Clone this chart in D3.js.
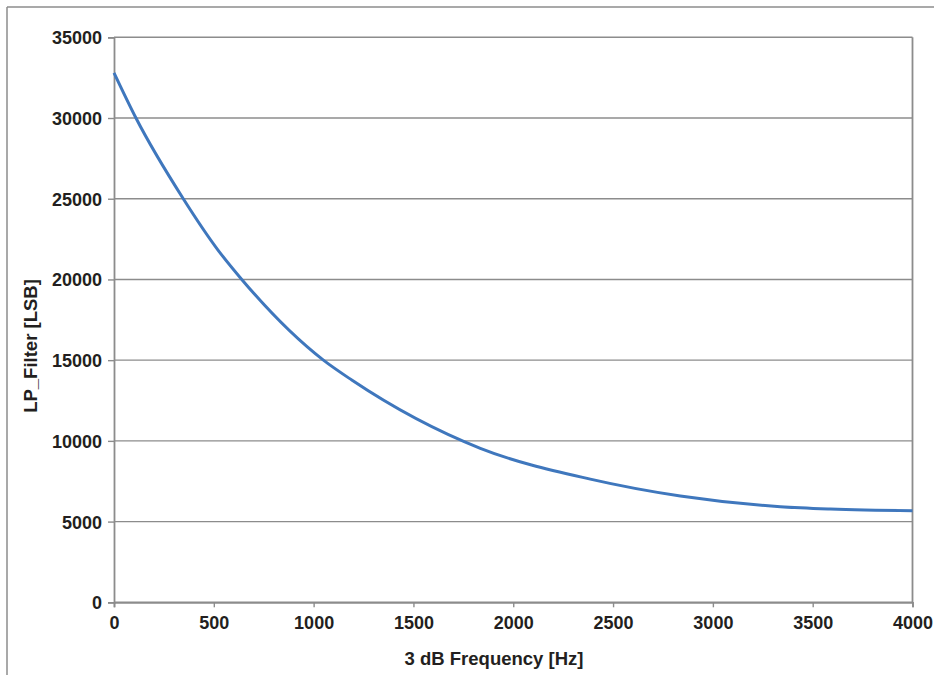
<!DOCTYPE html>
<html>
<head>
<meta charset="utf-8">
<script src="https://cdn.jsdelivr.net/npm/d3@7"></script>
<style>
  html, body { margin: 0; padding: 0; background: #fff; }
  svg text { font-family: "Liberation Sans", Arial, Helvetica, sans-serif; font-weight: bold; fill: #231f20; }
</style>
</head>
<body>
<svg id="chart" width="934" height="675"></svg>
<script>
// Data
const frequencies = [0, 110, 347, 521, 640, 1049, 1191, 1835, 2386, 2837, 3338, 3589, 4000];
const lpFilterValues = [32800, 30000, 25000, 21820, 20000, 15000, 13770, 9540, 7630, 6585, 5922, 5780, 5674];
const xTicks = [0, 500, 1000, 1500, 2000, 2500, 3000, 3500, 4000];
const yTicks = [0, 5000, 10000, 15000, 20000, 25000, 30000, 35000];
const xTitle = "3 dB Frequency [Hz]";
const yTitle = "LP_Filter [LSB]";

const svg = d3.select("#chart");
const W = 934, H = 675;
const plot = { left: 114, right: 912.5, top: 37.3, bottom: 602.3 };
const gridColor = "#8c8c8c";

// outer frame (only left and top visible)
svg.append("line").attr("x1", 7).attr("x2", 7).attr("y1", 7).attr("y2", H)
  .attr("stroke", gridColor).attr("stroke-width", 1.5);
svg.append("line").attr("x1", 7).attr("x2", W).attr("y1", 7).attr("y2", 7)
  .attr("stroke", gridColor).attr("stroke-width", 1.5);

const x = d3.scaleLinear().domain([0, 4000]).range([plot.left, plot.right]);
const y = d3.scaleLinear().domain([0, 35000]).range([plot.bottom, plot.top]);

// gridlines
svg.append("g").selectAll("line").data(yTicks).join("line")
  .attr("x1", plot.left).attr("x2", plot.right)
  .attr("y1", d => y(d)).attr("y2", d => y(d))
  .attr("stroke", gridColor).attr("stroke-width", 1.4);

// right border
svg.append("line").attr("x1", plot.right).attr("x2", plot.right)
  .attr("y1", plot.top).attr("y2", plot.bottom)
  .attr("stroke", gridColor).attr("stroke-width", 1.8);

// Y axis
const yAxis = svg.append("g").attr("transform", `translate(${plot.left},0)`)
  .call(d3.axisLeft(y).tickValues(yTicks).tickFormat(d3.format("d")).tickSize(6).tickPadding(6));
// X axis
const xAxis = svg.append("g").attr("transform", `translate(0,${plot.bottom})`)
  .call(d3.axisBottom(x).tickValues(xTicks).tickFormat(d3.format("d")).tickSize(5).tickPadding(9));

[yAxis, xAxis].forEach(g => {
  g.select(".domain").attr("stroke", gridColor).attr("stroke-width", 1.8);
  g.selectAll(".tick line").attr("stroke", gridColor).attr("stroke-width", 1.4);
  g.selectAll(".tick text").style("font-size", "18px").style("font-family", "'Liberation Sans', Arial, sans-serif")
    .style("font-weight", "bold").attr("fill", "#231f20");
});
yAxis.selectAll(".tick text").attr("dy", "0.36em");

// curve
const pts = frequencies.map((f, i) => [f, lpFilterValues[i]]);
svg.append("path").datum(pts)
  .attr("fill", "none").attr("stroke", "#3f77bd").attr("stroke-width", 3)
  .attr("stroke-linejoin", "round")
  .attr("d", d3.line().x(d => x(d[0])).y(d => y(d[1])).curve(d3.curveMonotoneX));

// titles
svg.append("text").attr("x", 494).attr("y", 665).attr("text-anchor", "middle")
  .style("font-size", "18.5px").text(xTitle);
svg.append("text").attr("transform", "translate(37,346) rotate(-90)").attr("text-anchor", "middle")
  .style("font-size", "18.5px").text(yTitle);
</script>
</body>
</html>
